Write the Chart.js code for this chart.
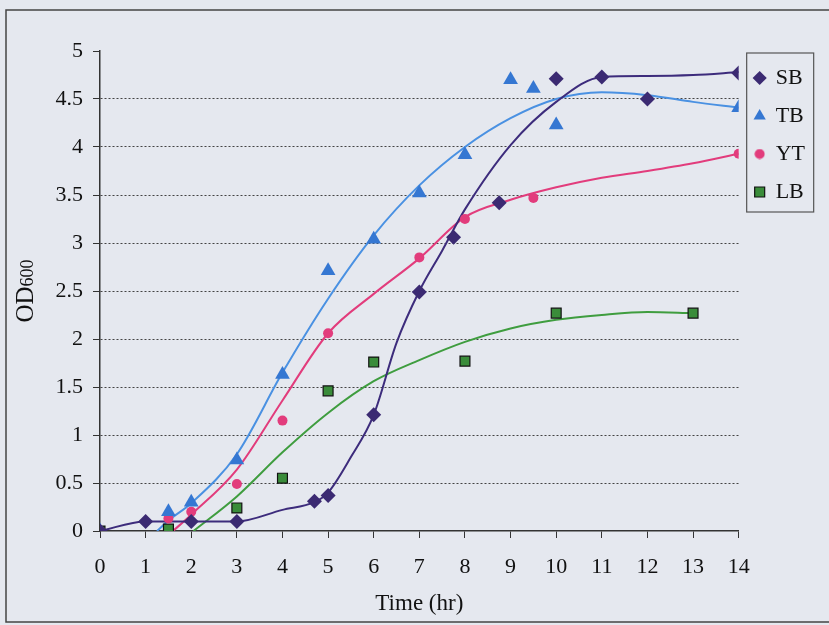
<!DOCTYPE html>
<html>
<head>
<meta charset="utf-8">
<script src="https://cdn.jsdelivr.net/npm/chart.js@4/dist/chart.umd.min.js"></script>
<style>
  body { margin: 0; background: #e5e8ef; }
  canvas { display: block; }
</style>
</head>
<body>
<canvas id="groeicurve" width="829" height="625"></canvas>
<script>
// Metingen (tijd in uur, OD600) per medium
const sbTijd  = [0, 1, 2, 3, 4.7, 5, 6, 7, 7.75, 8.75, 10, 11, 12, 14];
const sbOD    = [0, 0.1, 0.1, 0.1, 0.31, 0.37, 1.21, 2.49, 3.06, 3.42, 4.71, 4.73, 4.5, 4.77];
const tbTijd  = [0, 1.5, 2, 3, 4, 5, 6, 7, 8, 9, 9.5, 10, 14];
const tbOD    = [0, 0.2, 0.3, 0.74, 1.63, 2.71, 3.04, 3.52, 3.92, 4.7, 4.61, 4.23, 4.41];
const ytTijd  = [0, 1.5, 2, 3, 4, 5, 7, 8, 9.5, 14];
const ytOD    = [0, 0.13, 0.2, 0.49, 1.15, 2.06, 2.85, 3.25, 3.47, 3.93];
const lbTijd  = [0, 1.5, 3, 4, 5, 6, 8, 10, 13];
const lbOD    = [0, 0.02, 0.24, 0.55, 1.46, 1.76, 1.77, 2.27, 2.27];

// Trendlijnen
const sbFitTijd = [0, 1, 2, 3, 4, 4.7, 5, 5.5, 6, 6.5, 7, 7.5, 8, 9, 10, 11, 12, 13, 14];
const sbFitOD   = [0, 0.1, 0.1, 0.1, 0.22, 0.3, 0.4, 0.77, 1.21, 1.96, 2.5, 2.92, 3.35, 4.02, 4.47, 4.73, 4.74, 4.75, 4.78];
const tbFitTijd = [1.25, 1.5, 2, 3, 4, 5, 6, 7, 8, 9, 10, 11, 12, 13, 14];
const tbFitOD   = [0, 0.11, 0.29, 0.8, 1.65, 2.42, 3.08, 3.6, 4.0, 4.3, 4.5, 4.57, 4.54, 4.47, 4.41];
const ytFitTijd = [1.6, 2, 3, 4, 5, 6, 7, 8, 9, 10, 11, 12, 13, 14];
const ytFitOD   = [0, 0.17, 0.64, 1.36, 2.06, 2.47, 2.84, 3.27, 3.45, 3.58, 3.68, 3.75, 3.83, 3.93];
const lbFitTijd = [2.05, 3, 4, 5, 6, 7, 8, 9, 10, 11, 12, 13];
const lbFitOD   = [0, 0.36, 0.82, 1.23, 1.56, 1.78, 1.97, 2.11, 2.2, 2.25, 2.28, 2.27];

const yTickLabels = ['0', '0.5', '1', '1.5', '2', '2.5', '3', '3.5', '4', '4.5', '5'];

const serif = "'Liberation Serif', 'Times New Roman', serif";

const punten = (xs, ys) => xs.map((x, i) => ({ x: x, y: ys[i] }));

function meting(label, xs, ys, style, kleur, straal, rand) {
    return {
        label: label, data: punten(xs, ys), order: 0,
        pointStyle: style, pointRadius: straal, pointHoverRadius: straal,
        backgroundColor: kleur, borderColor: rand || kleur, borderWidth: rand ? 1.2 : 0,
        showLine: false
    };
}

function trend(xs, ys, kleur) {
    return {
        label: 'fit', data: punten(xs, ys), order: 1,
        showLine: true, pointRadius: 0, borderColor: kleur, borderWidth: 2,
        cubicInterpolationMode: 'monotone', fill: false
    };
}

// klein rondje voor de legenda (de standaard cirkel is te groot)
const legendaRondje = document.createElement('canvas');
legendaRondje.width = 11;
legendaRondje.height = 11;
(function () {
    const c = legendaRondje.getContext('2d');
    c.fillStyle = '#e23c7c';
    c.beginPath();
    c.arc(5.5, 5.5, 5, 0, Math.PI * 2);
    c.fill();
})();

// achtergrond + kader van de foto
const kader = {
    id: 'kader',
    beforeDraw(chart) {
        const c = chart.ctx;
        c.save();
        c.fillStyle = '#e5e8ef';
        c.fillRect(0, 0, chart.width, chart.height);
        c.strokeStyle = '#444';
        c.lineWidth = 1.5;
        c.strokeRect(6, 10, chart.width + 10, 612);
        c.restore();
    },
    afterDraw(chart) {
        const c = chart.ctx;
        const lg = chart.legend;
        c.save();
        // rand om de legenda
        c.strokeStyle = '#555';
        c.lineWidth = 1.2;
        c.strokeRect(lg.left + 8, 53, 67, 159);
        // y-as titel OD600 met kleine 600
        c.translate(33, 291);
        c.rotate(-Math.PI / 2);
        c.fillStyle = '#111';
        c.textBaseline = 'alphabetic';
        c.font = '25px ' + serif;
        const wOD = c.measureText('OD').width;
        c.font = '18px ' + serif;
        const w600 = c.measureText('600').width;
        const start = -(wOD + w600) / 2;
        c.font = '25px ' + serif;
        c.fillText('OD', start, 0);
        c.font = '18px ' + serif;
        c.fillText('600', start + wOD, 0);
        c.restore();
    }
};

new Chart(document.getElementById('groeicurve').getContext('2d'), {
    type: 'scatter',
    data: {
        datasets: [
            meting('SB', sbTijd, sbOD, 'rectRot', '#3b2a72', 7.5),
            meting('TB', tbTijd, tbOD, 'triangle', '#3577d2', 8.5),
            meting('YT', ytTijd, ytOD, 'circle', '#e23c7c', 5),
            meting('LB', lbTijd, lbOD, 'rect', '#3a8c3a', 7, '#111'),
            trend(sbFitTijd, sbFitOD, '#3d2c7c'),
            trend(tbFitTijd, tbFitOD, '#4a91e2'),
            trend(ytFitTijd, ytFitOD, '#e23c7c'),
            trend(lbFitTijd, lbFitOD, '#3f9d3f')
        ]
    },
    options: {
        responsive: false,
        animation: false,
        layout: { padding: { left: 0, right: 14, top: 51, bottom: 0 } },
        plugins: {
            tooltip: { enabled: false },
            legend: {
                position: 'right',
                align: 'start',
                labels: {
                    filter: item => item.text !== 'fit',
                    generateLabels: chart => {
                        const items = Chart.defaults.plugins.legend.labels.generateLabels(chart);
                        items.forEach(it => { if (it.text === 'YT') it.pointStyle = legendaRondje; });
                        return items;
                    },
                    usePointStyle: true,
                    boxWidth: 10,
                    boxHeight: 10,
                    padding: 16,
                    color: '#111',
                    font: { family: serif, size: 22 }
                }
            }
        },
        scales: {
            x: {
                type: 'linear', min: 0, max: 14,
                afterFit: s => { s.height = 94; },
                ticks: { stepSize: 1, padding: 16, color: '#111', font: { family: serif, size: 22 } },
                grid: { drawOnChartArea: false, tickLength: 7, tickColor: '#333' },
                border: { color: '#333', width: 1.5 },
                title: { display: true, text: 'Time (hr)', color: '#111', padding: { top: 0, bottom: 7 }, font: { family: serif, size: 23 } }
            },
            y: {
                min: 0, max: 5,
                afterFit: s => { s.width = 100; },
                ticks: {
                    stepSize: 0.5, padding: 10, color: '#111',
                    font: { family: serif, size: 22 },
                    callback: (v, i) => yTickLabels[i]
                },
                grid: {
                    color: ctx => (ctx.tick && (ctx.tick.value === 5 || ctx.tick.value === 0)) ? 'rgba(0,0,0,0)' : '#444',
                    tickLength: 7, tickColor: '#333', lineWidth: 1
                },
                border: { color: '#333', width: 1.5, dash: [2, 2] }
            }
        }
    },
    plugins: [kader]
});
</script>
</body>
</html>
